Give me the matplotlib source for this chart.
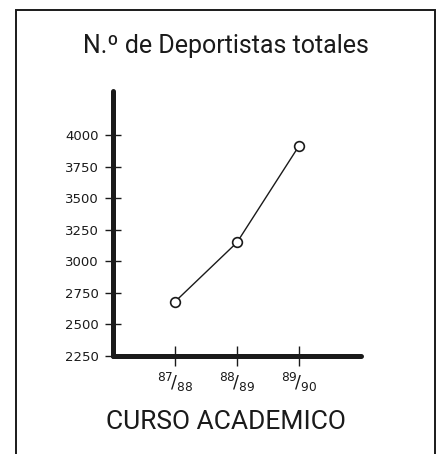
import matplotlib.pyplot as plt
from matplotlib.patches import Rectangle

# datos
cursos = [r'${}^{87}\!/_{88}$', r'${}^{88}\!/_{89}$', r'${}^{89}\!/_{90}$']
deportistas = [2680, 3150, 3915]
marcas_y = [2250, 2500, 2750, 3000, 3250, 3500, 3750, 4000]

plt.rcParams['mathtext.fontset'] = 'dejavusans'

fig = plt.figure(figsize=(4.42, 4.54), dpi=100)

# marco exterior
fig.patches.append(Rectangle((16 / 442, -0.05), (435 - 16) / 442, 1.05 - 10 / 454,
                             transform=fig.transFigure, fill=False,
                             edgecolor='#1a1a1a', linewidth=1.4))

ax = fig.add_axes([113 / 442, 1 - 356 / 454, (361 - 113) / 442, (356 - 91) / 454])

x = list(range(len(cursos)))
ax.plot(x, deportistas, color='#1a1a1a', linewidth=1.0, marker='o',
        markersize=7, markerfacecolor='white', markeredgecolor='#1a1a1a',
        markeredgewidth=1.2)

ax.set_xlim(-1, 3)
ax.set_ylim(2250, 4350)
ax.set_xticks(x)
ax.set_xticklabels(cursos, fontsize=12.5)
ax.set_yticks(marcas_y)
ax.set_yticklabels([str(v) for v in marcas_y], fontsize=9.5)

for lado in ['top', 'right']:
    ax.spines[lado].set_visible(False)
for lado in ['left', 'bottom']:
    ax.spines[lado].set_linewidth(3.6)
    ax.spines[lado].set_color('#1a1a1a')
    ax.spines[lado].set_capstyle('round')

ax.tick_params(axis='y', direction='inout', length=11, width=1.0, pad=5, colors='#1a1a1a')
ax.tick_params(axis='x', direction='inout', length=15, width=1.0, pad=3, colors='#1a1a1a')

fig.text(226 / 442, 1 - 46 / 454, 'N.º de Deportistas totales', ha='center', va='center',
         fontsize=18, family='Roboto', color='#1a1a1a')
fig.text(226 / 442, 1 - 422 / 454, 'CURSO ACADEMICO', ha='center', va='center',
         fontsize=19, family='Roboto', color='#1a1a1a')

fig.savefig('out.png', dpi=100)
